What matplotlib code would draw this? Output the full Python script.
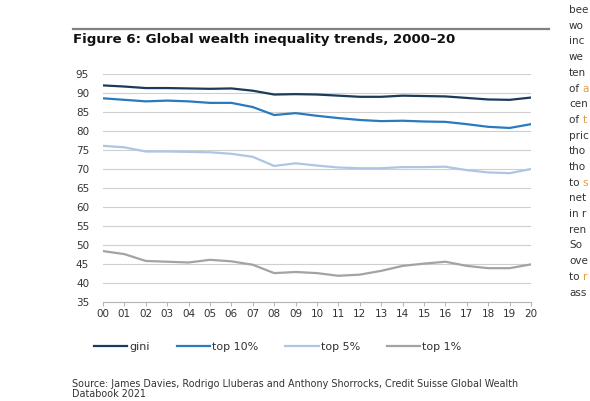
import matplotlib
matplotlib.use("Agg")
import matplotlib.pyplot as plt
from matplotlib.lines import Line2D
from matplotlib.text import Annotation

years = ["00", "01", "02", "03", "04", "05", "06", "07", "08", "09", "10",
         "11", "12", "13", "14", "15", "16", "17", "18", "19", "20"]
gini = [92.0, 91.7, 91.3, 91.3, 91.2, 91.1, 91.2, 90.6, 89.6, 89.7, 89.6,
        89.3, 89.0, 89.0, 89.3, 89.2, 89.1, 88.7, 88.3, 88.2, 88.8]
top10 = [88.6, 88.2, 87.8, 88.0, 87.8, 87.4, 87.4, 86.3, 84.2, 84.7, 84.0,
         83.4, 82.9, 82.6, 82.7, 82.5, 82.4, 81.8, 81.1, 80.8, 81.8]
top5 = [76.1, 75.7, 74.6, 74.6, 74.5, 74.4, 74.0, 73.2, 70.8, 71.5, 70.9,
        70.4, 70.2, 70.2, 70.5, 70.5, 70.6, 69.7, 69.1, 68.9, 70.0]
top1 = [48.4, 47.6, 45.8, 45.6, 45.4, 46.1, 45.7, 44.8, 42.6, 42.9, 42.6,
        41.9, 42.2, 43.2, 44.5, 45.1, 45.6, 44.5, 43.9, 43.9, 44.9]
series_names = ["gini", "top 10%", "top 5%", "top 1%"]
yticks = [35, 40, 45, 50, 55, 60, 65, 70, 75, 80, 85, 90, 95]

title = "Figure 6: Global wealth inequality trends, 2000\u201320"
source = ("Source: James Davies, Rodrigo Lluberas and Anthony Shorrocks, Credit Suisse Global Wealth\n"
          "Databook 2021")
# visible fragments of the neighbouring page column (cut at the image edge)
side_lines = [("bee", ""), ("wo", ""), ("inc", ""), ("we", ""),
              ("ten", ""), ("of ", "a"), ("cen", ""), ("of ", "t"),
              ("pric", ""), ("tho", ""), ("tho", ""), ("to ", "s"),
              ("net", ""), ("in r", ""), ("ren", ""), ("So", ""),
              ("ove", ""), ("to ", "r"), ("ass", "")]

W, H = 590, 401
FONT = "DejaVu Sans"
fig = plt.figure(figsize=(W / 100, H / 100), dpi=100)
fig.patch.set_facecolor("white")

ax = fig.add_axes([103 / W, (H - 302) / H, (531 - 103) / W, (302 - 74) / H])
colors = ["#1b3a5c", "#2a7abf", "#aec6e4", "#a3a3a3"]
x = list(range(len(years)))
for vals, name, c in zip([gini, top10, top5, top1], series_names, colors):
    ax.plot(x, vals, color=c, lw=1.6, label=name, solid_joinstyle="round")

ax.set_xlim(0, len(years) - 1)
ax.set_ylim(35, 95)
ax.set_yticks(yticks)
ax.set_xticks(x)
ax.set_xticklabels(years)
for s in ["top", "right", "left"]:
    ax.spines[s].set_visible(False)
ax.spines["bottom"].set_color("#b5b5b5")
ax.spines["bottom"].set_linewidth(0.8)
ax.grid(axis="y", color="#cfcfcf", lw=0.8)
ax.set_axisbelow(True)
ax.tick_params(axis="y", length=0, pad=10, labelsize=7.5, labelcolor="#333333")
ax.tick_params(axis="x", length=3, width=0.7, color="#b5b5b5", pad=2,
               labelsize=7.5, labelcolor="#333333")
for lab in ax.get_xticklabels() + ax.get_yticklabels():
    lab.set_fontfamily(FONT)

leg = fig.legend(loc="center left", bbox_to_anchor=(94 / W, (H - 347) / H),
                 ncol=4, frameon=False, handlelength=3.0, handletextpad=0.2,
                 columnspacing=2.4, borderpad=0, borderaxespad=0,
                 prop={"family": FONT, "size": 8})
for t in leg.get_texts():
    t.set_color("#333333")

# rule above title
fig.add_artist(Line2D([73 / W, 549 / W], [(H - 29) / H, (H - 29) / H],
                      color="#808080", lw=1.6))
fig.text(73 / W, (H - 39) / H, title, fontsize=9.6, fontweight="bold",
         family=FONT, color="#111111", va="center", ha="left")
fig.text(72 / W, (H - 379) / H, source, fontsize=6.9, family=FONT,
         color="#333333", va="top", ha="left", linespacing=1.0)

# right-hand page column
for i, (a, b) in enumerate(side_lines):
    y = (H - (10 + 15.7 * i)) / H
    t = fig.text(569 / W, y, a, fontsize=7.5, family=FONT,
                 color="#333333", va="center", ha="left")
    if b:
        fig.add_artist(Annotation(
            b, xy=(1, 0.5), xycoords=t, va="center", ha="left",
            fontsize=7.5, family=FONT, color="#e39a3b"))

fig.savefig("out.png", dpi=100, facecolor="white")
